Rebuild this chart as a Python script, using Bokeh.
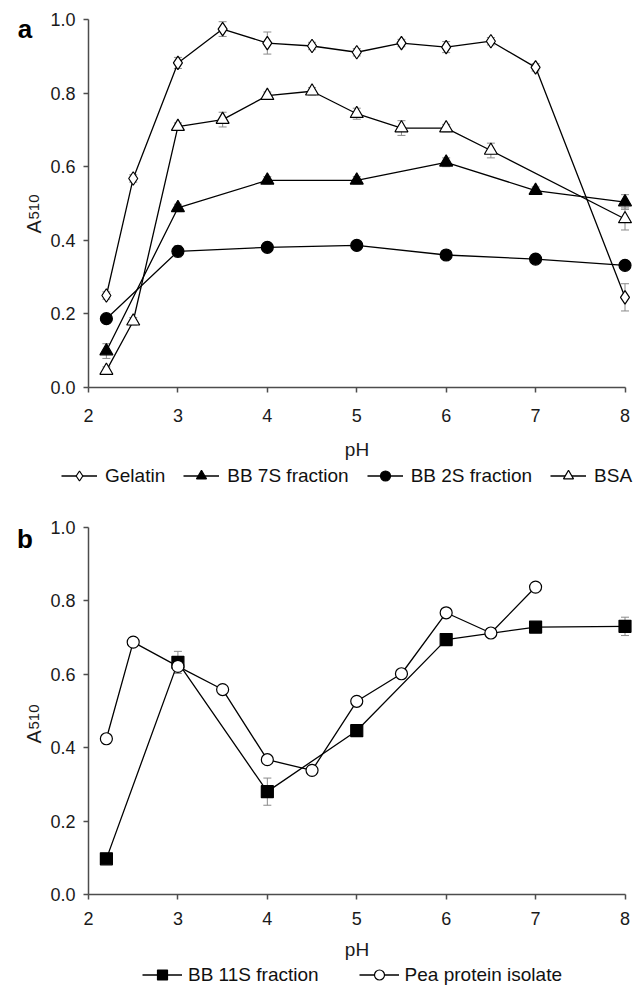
from math import pi
from bokeh.plotting import figure
from bokeh.models import (Range1d, FixedTicker, PrintfTickFormatter, Legend, LegendItem,
                          Label, Whisker, TeeHead, ColumnDataSource, LinearAxis)
from bokeh.layouts import column
from bokeh.embed import file_html
from bokeh.resources import INLINE

FONT = "Liberation Sans"

# ---------------- data ----------------
ph_ticks = [2, 3, 4, 5, 6, 7, 8]
a510_ticks = [0.0, 0.2, 0.4, 0.6, 0.8, 1.0]

# panel a
ph_gelatin = [2.2, 2.5, 3, 3.5, 4, 4.5, 5, 5.5, 6, 6.5, 7, 8]
gelatin = [0.250, 0.568, 0.882, 0.974, 0.936, 0.928, 0.911, 0.936, 0.925, 0.941, 0.870, 0.245]
gelatin_err = [0.01, 0.01, 0.015, 0.02, 0.03, 0.01, 0.01, 0.01, 0.015, 0.01, 0.01, 0.037]

ph_7s = [2.2, 3, 4, 5, 6, 7, 8]
bb7s = [0.099, 0.488, 0.563, 0.563, 0.612, 0.535, 0.504]
bb7s_err = [0.02, 0.01, 0.01, 0.01, 0.012, 0.01, 0.02]

ph_2s = [2.2, 3, 4, 5, 6, 7, 8]
bb2s = [0.187, 0.370, 0.381, 0.386, 0.360, 0.349, 0.332]
bb2s_err = [0.01, 0.015, 0.01, 0.01, 0.01, 0.01, 0.01]

ph_bsa = [2.2, 2.5, 3, 3.5, 4, 4.5, 5, 5.5, 6, 6.5, 8]
bsa = [0.046, 0.180, 0.709, 0.728, 0.793, 0.805, 0.744, 0.705, 0.705, 0.644, 0.458]
bsa_err = [0.01, 0.01, 0.01, 0.02, 0.01, 0.01, 0.015, 0.02, 0.01, 0.02, 0.03]

# panel b
ph_11s = [2.2, 3, 4, 5, 6, 7, 8]
bb11s = [0.097, 0.632, 0.280, 0.446, 0.694, 0.728, 0.730]
bb11s_err = [0.01, 0.03, 0.037, 0.01, 0.01, 0.01, 0.025]

ph_pea = [2.2, 2.5, 3, 3.5, 4, 4.5, 5, 5.5, 6, 6.5, 7]
pea = [0.424, 0.687, 0.621, 0.558, 0.367, 0.338, 0.526, 0.601, 0.767, 0.712, 0.837]
pea_err = [0.01, 0.01, 0.01, 0.01, 0.01, 0.01, 0.01, 0.01, 0.01, 0.01, 0.01]

# (label, x, y, err, marker, size, fill)
series_a = [
    ("Gelatin", ph_gelatin, gelatin, gelatin_err, "diamond", 13.5, "white"),
    ("BB 7S fraction", ph_7s, bb7s, bb7s_err, "triangle", 13, "black"),
    ("BB 2S fraction", ph_2s, bb2s, bb2s_err, "circle", 12, "black"),
    ("BSA", ph_bsa, bsa, bsa_err, "triangle", 13, "white"),
]
series_b = [
    ("BB 11S fraction", ph_11s, bb11s, bb11s_err, "square", 12, "black"),
    ("Pea protein isolate", ph_pea, pea, pea_err, "circle", 12, "white"),
]

W = 644
X_LEFT_PX = 88.0     # pixel of pH 2
X_RIGHT_PX = 624.5   # pixel of pH 8


def make_panel(letter, series, height, y1_px, y0_px, tick_standoff, label_standoff,
               legend_loc, glyph_w, standoff, spacing, ylab_y, letter_y):
    xs_per_px = 6.0 / (X_RIGHT_PX - X_LEFT_PX)
    ys_per_px = 1.0 / (y0_px - y1_px)
    x_rng = Range1d(2 - X_LEFT_PX * xs_per_px, 8 + (W - X_RIGHT_PX) * xs_per_px)
    y_rng = Range1d(0 - (height - y0_px) * ys_per_px, 1 + y1_px * ys_per_px)
    p = figure(frame_width=W, frame_height=height, x_range=x_rng, y_range=y_rng,
               x_axis_location=None, y_axis_location=None,
               output_backend="svg", toolbar_location=None,
               min_border=0)
    p.xgrid.visible = False
    p.ygrid.visible = False
    p.outline_line_color = None
    p.background_fill_color = "white"

    items = []
    for name, xs, ys, es, marker, size, fill in series:
        src = ColumnDataSource(dict(x=xs, y=ys,
                                    lo=[a - b for a, b in zip(ys, es)],
                                    hi=[a + b for a, b in zip(ys, es)]))
        ln = p.line("x", "y", source=src, line_color="black", line_width=1.3)
        w = Whisker(source=src, base="x", upper="hi", lower="lo", dimension="height",
                    line_color="#8a8a8a", line_width=1,
                    upper_head=TeeHead(size=8, line_color="#8a8a8a", line_width=1),
                    lower_head=TeeHead(size=8, line_color="#8a8a8a", line_width=1),
                    level="underlay")
        p.add_layout(w)
        sc = p.scatter("x", "y", source=src, marker=marker, size=size,
                       fill_color=fill, line_color="black", line_width=1.2)
        items.append(LegendItem(label=name, renderers=[ln, sc]))

    xax = LinearAxis(fixed_location=0, bounds=(2, 8), ticker=FixedTicker(ticks=ph_ticks))
    yax = LinearAxis(fixed_location=2, bounds=(0, 1), ticker=FixedTicker(ticks=a510_ticks),
                     formatter=PrintfTickFormatter(format="%.1f"))
    for ax in (xax, yax):
        ax.axis_line_color = "#4d4d4d"
        ax.axis_line_width = 1.5
        ax.major_tick_line_color = "#4d4d4d"
        ax.major_tick_line_width = 1.5
        ax.major_tick_out = 5
        ax.major_tick_in = 0
        ax.minor_tick_out = 0
        ax.minor_tick_in = 0
        ax.major_label_text_font = FONT
        ax.major_label_text_font_size = "18px"
        ax.major_label_text_color = "#1a1a1a"

    xax.major_label_standoff = tick_standoff
    xax.axis_label = "pH"
    xax.axis_label_text_font = FONT
    xax.axis_label_text_font_size = "19px"
    xax.axis_label_text_font_style = "normal"
    xax.axis_label_text_color = "#1a1a1a"
    xax.axis_label_standoff = label_standoff
    yax.major_label_standoff = 8
    p.add_layout(xax, "below")
    p.add_layout(yax, "left")

    legend = Legend(items=items, location=legend_loc, orientation="horizontal",
                    glyph_width=glyph_w, glyph_height=25, label_height=20,
                    label_standoff=standoff, spacing=spacing, padding=0, margin=0,
                    border_line_color=None, background_fill_alpha=0,
                    label_text_font=FONT, label_text_font_size="19px",
                    label_text_color="#111111")
    p.add_layout(legend)

    p.add_layout(Label(x=33, y=ylab_y, x_units="screen", y_units="screen", text="A",
                       angle=pi / 2, text_align="left", text_baseline="alphabetic",
                       text_font=FONT, text_font_size="20px", text_color="#1a1a1a"))
    p.add_layout(Label(x=33, y=ylab_y + 14, x_units="screen", y_units="screen", text="510",
                       angle=pi / 2, text_align="left", text_baseline="alphabetic",
                       text_font=FONT, text_font_size="15px", text_color="#1a1a1a"))
    p.add_layout(Label(x=24.5, y=letter_y, x_units="screen", y_units="screen", text=letter,
                       text_align="center", text_baseline="alphabetic",
                       text_font=FONT, text_font_size="26px", text_font_style="bold",
                       text_color="black"))
    return p


pa = make_panel("a", series_a, height=487, y1_px=19, y0_px=387,
                tick_standoff=16, label_standoff=14, legend_loc=(61, -1),
                glyph_w=36, standoff=8, spacing=18, ylab_y=254, letter_y=459)
pb = make_panel("b", series_b, height=498, y1_px=39.7, y0_px=407,
                tick_standoff=12, label_standoff=11, legend_loc=(142, -2),
                glyph_w=40, standoff=6, spacing=40, ylab_y=242, letter_y=447)

layout = column(pa, pb, spacing=0)
open("out.html", "w").write(file_html(layout, INLINE))
